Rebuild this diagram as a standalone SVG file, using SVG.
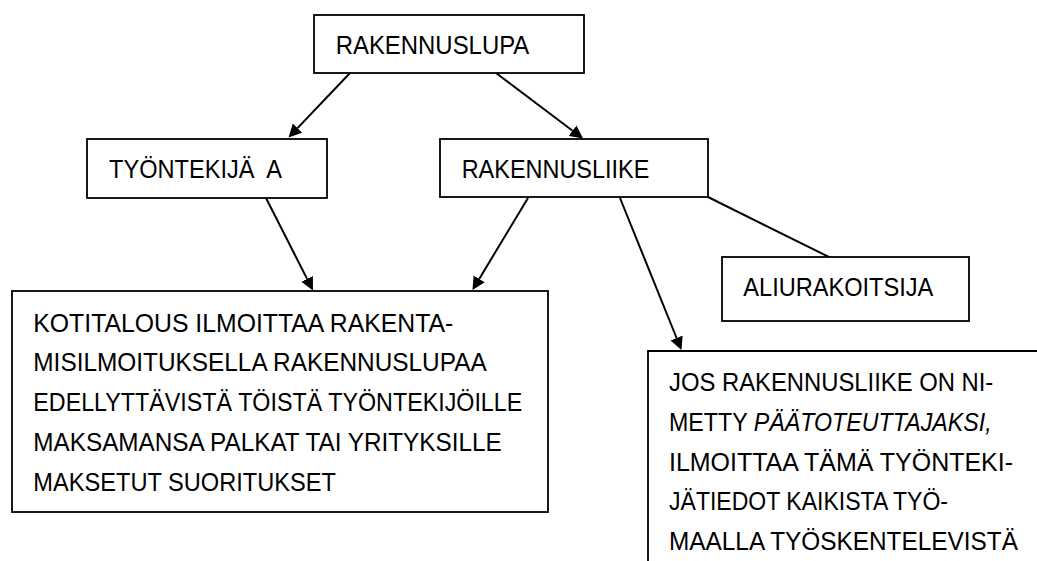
<svg xmlns="http://www.w3.org/2000/svg" width="1037" height="561" viewBox="0 0 1037 561">
<style>
.box{fill:#fff;stroke:#000;stroke-width:1.8}
.t{font-family:"Liberation Sans",Arial,sans-serif;font-size:25px;fill:#000}
.c{fill:none;stroke:#000;stroke-width:2}
.i{font-style:italic}
</style>
<defs>
<marker id="ah" markerUnits="userSpaceOnUse" markerWidth="14" markerHeight="14" viewBox="0 -7 14 14" refX="0" refY="0" orient="auto">
<path d="M0,-6.5 L13,0 L0,6.5 z" fill="#000"/>
</marker>
</defs>
<rect width="1037" height="561" fill="#fff"/>
<g id="connectors">
<path class="c" d="M350,73 L297.5,128.1" marker-end="url(#ah)"/>
<path class="c" d="M496,73 L572.6,130.7" marker-end="url(#ah)"/>
<path class="c" d="M266,198 L307.1,278.9" marker-end="url(#ah)"/>
<path class="c" d="M528,198 L479.2,278.9" marker-end="url(#ah)"/>
<path class="c" d="M620,198 L676.6,338" marker-end="url(#ah)"/>
<path class="c" d="M708,197 L829,257"/>
</g>
<g id="rakennuslupa">
<rect class="box" x="314" y="15" width="270" height="58"/>
<text class="t" x="335.7" y="54" textLength="193.6" lengthAdjust="spacingAndGlyphs">RAKENNUSLUPA</text>
</g>
<g id="tyontekija">
<rect class="box" x="87" y="139" width="240" height="59"/>
<text class="t" x="109" y="177.7" xml:space="preserve" textLength="173" lengthAdjust="spacingAndGlyphs">TYÖNTEKIJÄ  A</text>
</g>
<g id="rakennusliike">
<rect class="box" x="440" y="139" width="268" height="58"/>
<text class="t" x="461.7" y="177.7" textLength="187.6" lengthAdjust="spacingAndGlyphs">RAKENNUSLIIKE</text>
</g>
<g id="aliurakoitsija">
<rect class="box" x="722" y="257" width="247" height="64"/>
<text class="t" x="743.3" y="295.7" textLength="190" lengthAdjust="spacingAndGlyphs">ALIURAKOITSIJA</text>
</g>
<g id="kotitalous">
<rect class="box" x="12" y="291" width="536" height="221"/>
<text class="t" x="33.3" y="331.7" textLength="420" lengthAdjust="spacingAndGlyphs">KOTITALOUS ILMOITTAA RAKENTA-</text>
<text class="t" x="33.3" y="371" textLength="453.4" lengthAdjust="spacingAndGlyphs">MISILMOITUKSELLA RAKENNUSLUPAA</text>
<text class="t" x="33.3" y="410.5" textLength="489" lengthAdjust="spacingAndGlyphs">EDELLYTTÄVISTÄ TÖISTÄ TYÖNTEKIJÖILLE</text>
<text class="t" x="33.3" y="450.7" textLength="468.4" lengthAdjust="spacingAndGlyphs">MAKSAMANSA PALKAT TAI YRITYKSILLE</text>
<text class="t" x="33.3" y="491" textLength="302.7" lengthAdjust="spacingAndGlyphs">MAKSETUT SUORITUKSET</text>
</g>
<g id="paatoteuttaja">
<path class="box" d="M1040,351 L648,351 L648,565" fill="none"/>
<text class="t" x="669" y="390.7" textLength="324.3" lengthAdjust="spacingAndGlyphs">JOS RAKENNUSLIIKE ON NI-</text>
<text class="t" x="669" y="431" textLength="322.7" lengthAdjust="spacingAndGlyphs">METTY <tspan class="i">PÄÄTOTEUTTAJAKSI,</tspan></text>
<text class="t" x="669" y="471" textLength="344" lengthAdjust="spacingAndGlyphs">ILMOITTAA TÄMÄ TYÖNTEKI-</text>
<text class="t" x="669" y="510" textLength="279" lengthAdjust="spacingAndGlyphs">JÄTIEDOT KAIKISTA TYÖ-</text>
<text class="t" x="669" y="550" textLength="349" lengthAdjust="spacingAndGlyphs">MAALLA TYÖSKENTELEVISTÄ</text>
</g>
</svg>
